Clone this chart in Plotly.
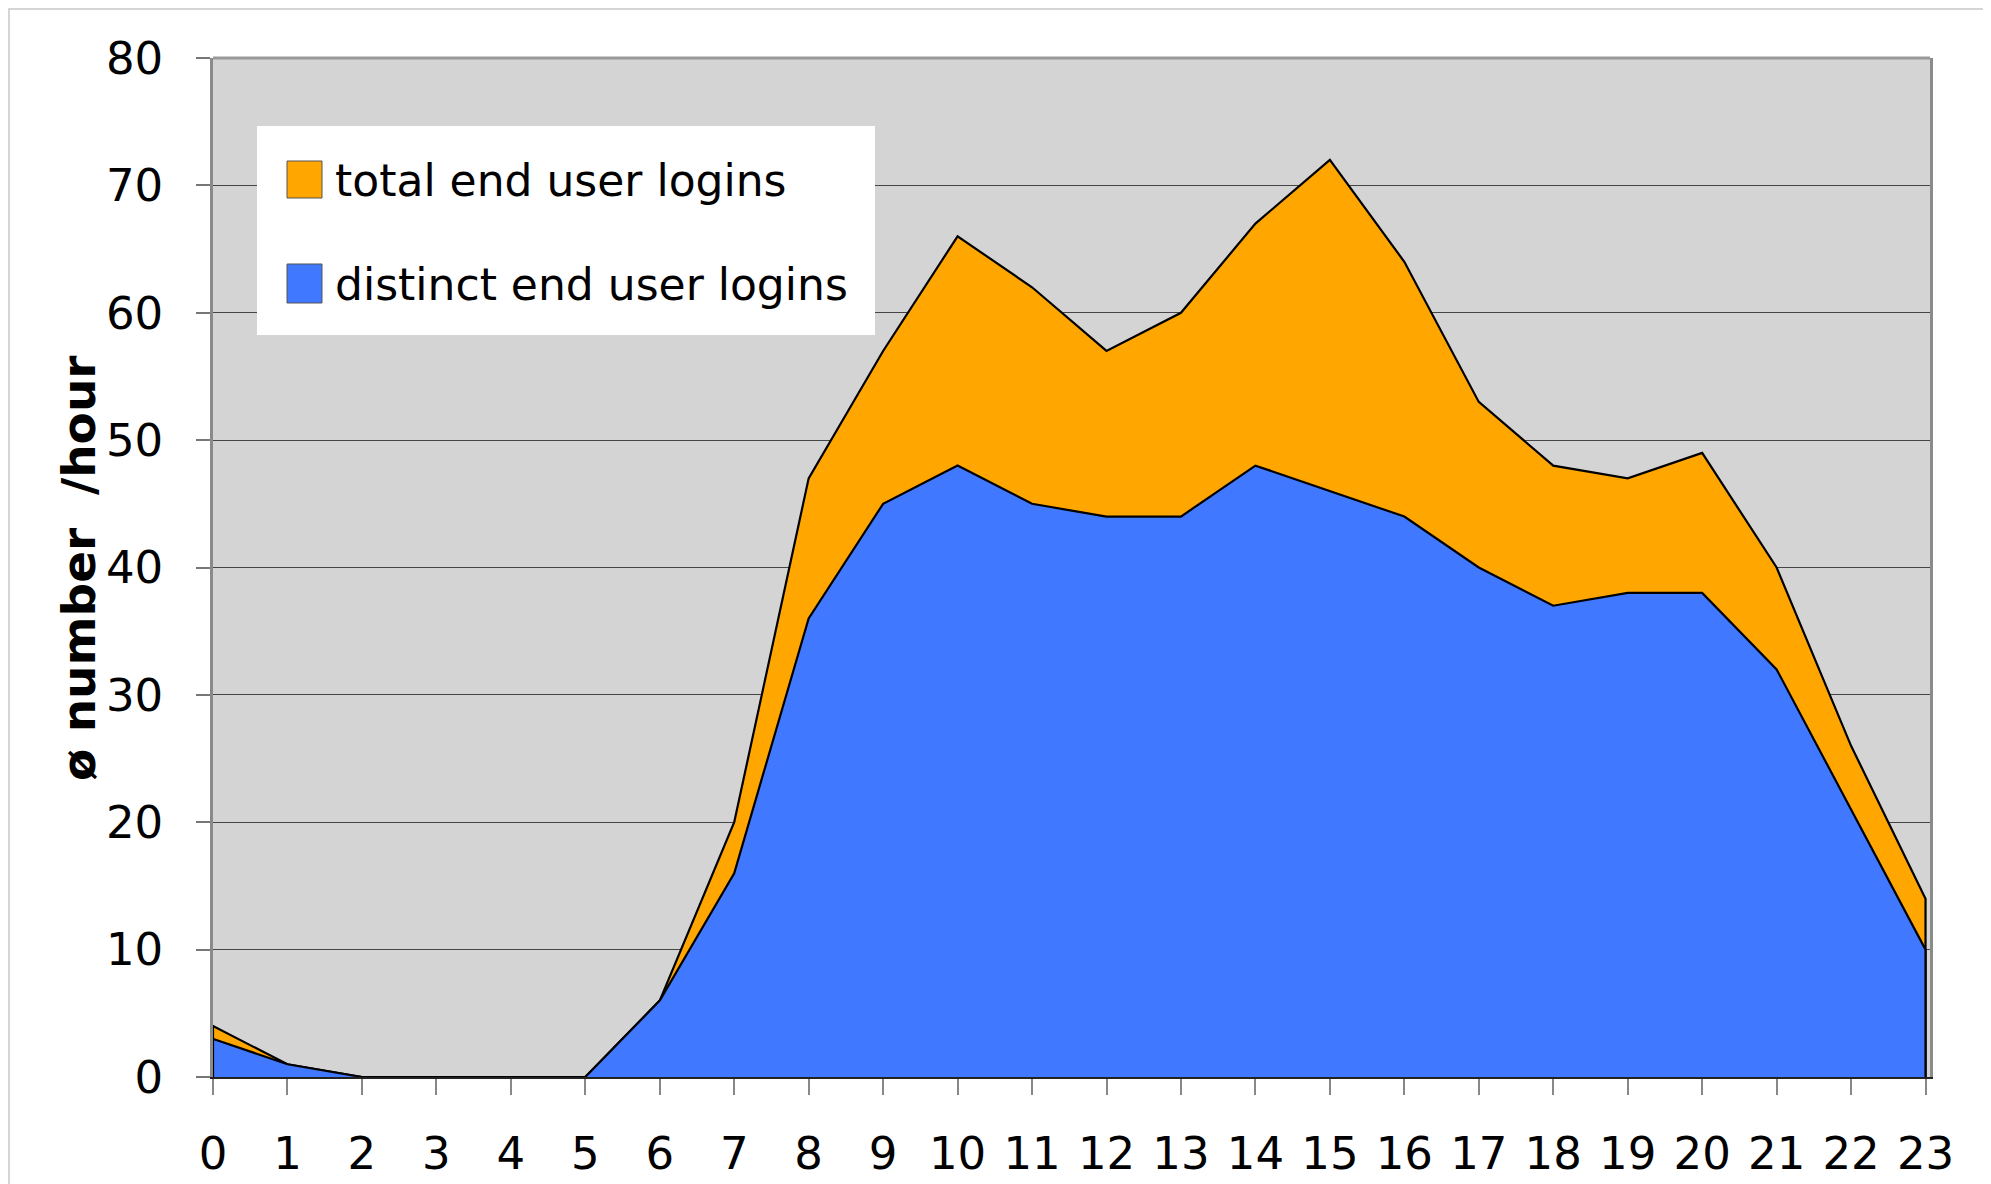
import plotly.graph_objects as go

hours = list(range(24))
hour_labels = [str(h) for h in hours]
total_logins = [4, 1, 0, 0, 0, 0, 6, 20, 47, 57, 66, 62, 57, 60, 67, 72, 64, 53, 48, 47, 49, 40, 26, 14]
distinct_logins = [3, 1, 0, 0, 0, 0, 6, 16, 36, 45, 48, 45, 44, 44, 48, 46, 44, 40, 37, 38, 38, 32, 21, 10]
series_names = ["total end user logins", "distinct end user logins"]
y_ticks = [0, 10, 20, 30, 40, 50, 60, 70, 80]

ORANGE = "#FFA600"
BLUE = "#4079FF"

W, H = 1991, 1184
OFF = 8  # page body margin
# plot area in page pixel coordinates
PL, PR, PT, PB = 213, 1930, 58, 1077
L, R, T, B = PL - OFF, PR - OFF, PT - OFF, PB - OFF


def px(x):
    return (x - OFF - L) / (R - L)


def py(y):
    return (B - (y - OFF)) / (B - T)


fig = go.Figure()
for vals, color, name in [(total_logins, ORANGE, series_names[0]), (distinct_logins, BLUE, series_names[1])]:
    fig.add_trace(go.Scatter(
        x=[hours[0]] + hours + [hours[-1]], y=[0] + vals + [0],
        mode="lines", fill="toself", fillcolor=color,
        line=dict(color="black", width=2.2), name=name, showlegend=False,
        hoverinfo="skip",
    ))

tick_font = dict(family="DejaVu Sans", size=45, color="black")

fig.update_layout(
    width=W, height=H,
    margin=dict(l=L, r=W - R, t=T, b=H - B),
    paper_bgcolor="white", plot_bgcolor="#D4D4D4",
    showlegend=False,
    xaxis=dict(
        range=[0, 23.06], tickmode="array", tickvals=hours, ticktext=hour_labels,
        showgrid=False, zeroline=False, showline=True, linecolor="#222", linewidth=2,
        ticks="outside", ticklen=16, tickcolor="#888", tickwidth=1.5,
        tickfont=tick_font, ticklabelstandoff=20,
    ),
    yaxis=dict(
        range=[0, 80], tickmode="array", tickvals=y_ticks,
        showgrid=True, gridcolor="#454545", gridwidth=1.1, zeroline=False,
        showline=True, linecolor="#8a8a8a", linewidth=2.5, mirror=True,
        ticks="outside", ticklen=14, tickcolor="#777", tickwidth=1.5,
        tickfont=tick_font, ticklabelstandoff=24,
    ),
)

shapes = []
# top plot border
shapes.append(dict(type="line", xref="paper", yref="paper", x0=0, x1=1, y0=1, y1=1,
                   line=dict(color="#999999", width=3), layer="above"))
# outer frame
shapes.append(dict(type="rect", xref="paper", yref="paper",
                   x0=px(9), x1=px(1987), y0=py(1230), y1=py(9),
                   line=dict(color="#c8c8c8", width=1.5), fillcolor="rgba(0,0,0,0)", layer="below"))
# legend box
shapes.append(dict(type="rect", xref="paper", yref="paper",
                   x0=px(257), x1=px(875), y0=py(335), y1=py(126),
                   line=dict(width=0), fillcolor="white", layer="above"))
swatches = [(ORANGE, 161, 198, 180), (BLUE, 264, 303, 284)]
annotations = []
for (color, y0, y1, yc), name in zip(swatches, series_names):
    shapes.append(dict(type="rect", xref="paper", yref="paper",
                       x0=px(287), x1=px(322), y0=py(y1), y1=py(y0),
                       line=dict(color="#555", width=1), fillcolor=color, layer="above"))
    annotations.append(dict(xref="paper", yref="paper", x=px(333), y=py(yc),
                            xanchor="left", yanchor="middle", showarrow=False,
                            text=name, font=dict(family="DejaVu Sans", size=44, color="black")))

annotations.append(dict(xref="paper", yref="paper", x=px(78), y=py(568),
                        xanchor="center", yanchor="middle", showarrow=False, textangle=-90,
                        text="ø number \u00a0/hour",
                        font=dict(family="DejaVu Sans", size=47, color="black", weight="bold")))

fig.update_layout(shapes=shapes, annotations=annotations)
fig.write_html("out.html")
